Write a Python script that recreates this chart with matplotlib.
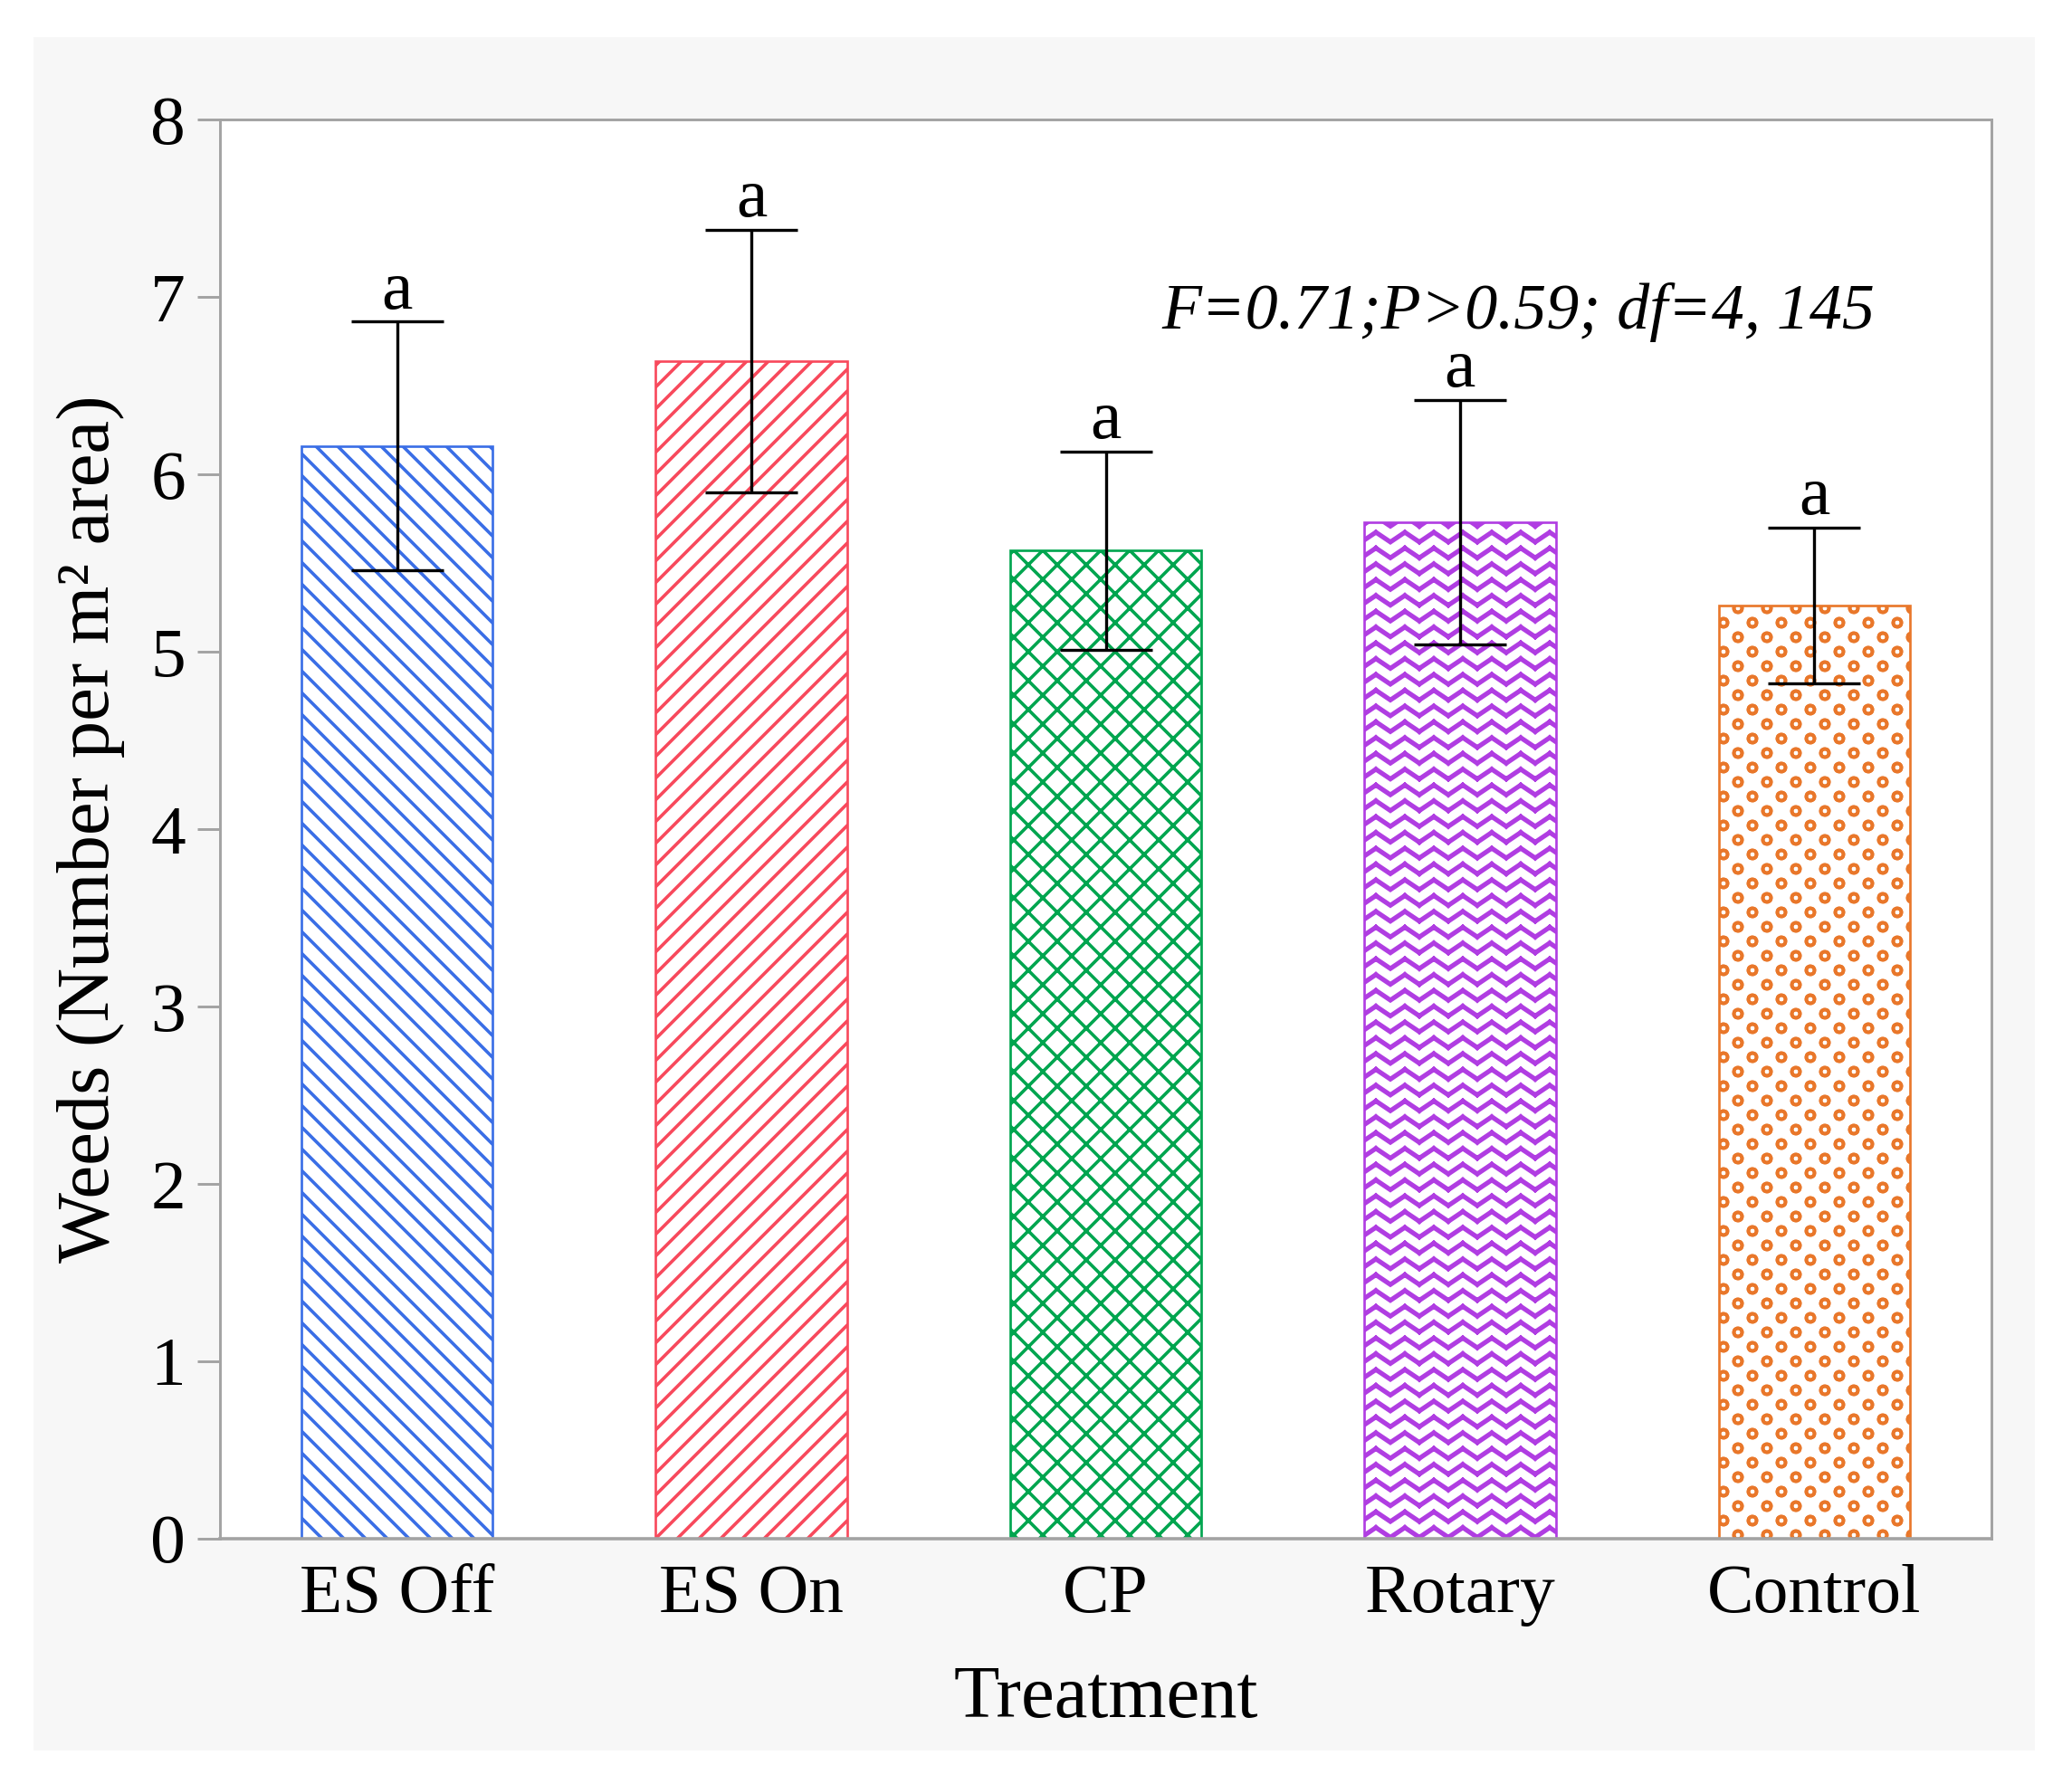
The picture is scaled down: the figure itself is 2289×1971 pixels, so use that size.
import warnings
import numpy as np
import matplotlib
matplotlib.use("Agg")
import matplotlib.pyplot as plt
import matplotlib.hatch as mhatch
from matplotlib.path import Path
from matplotlib.patches import Rectangle

treatments = ["ES Off", "ES On", "CP", "Rotary", "Control"]
means = [6.16, 6.64, 5.57, 5.73, 5.26]
errors = [0.70, 0.74, 0.56, 0.69, 0.44]
letters = ["a", "a", "a", "a", "a"]
colors = ["#3a6ee6", "#f8495c", "#00a54f", "#b03de2", "#e9772a"]
hatches = ["b", "f", "xx", "z", "c"]
stats_text = "F=0.71;P>0.59; df=4, 145"

warnings.filterwarnings("ignore", message="hatch must consist")


# extra hatch patterns: 'f'/'b' stripes, 'z' zigzag, 'c' staggered rings
class StripeHatch(mhatch.HatchPatternBase):
    def __init__(self, hatch, density):
        self.rising = hatch.count("f") * 8
        self.falling = hatch.count("b") * 8
        n_lines = sum(2 * n + 1 for n in (self.rising, self.falling) if n)
        self.num_vertices = 2 * n_lines

    def set_vertices_and_codes(self, vertices, codes):
        segs = []
        for n, up in ((self.rising, True), (self.falling, False)):
            if not n:
                continue
            for c in np.arange(-n, n + 1) / n:
                if up:
                    segs += [(0, c), (1, c + 1)]
                else:
                    segs += [(0, c + 1), (1, c)]
        vertices[:] = np.array(segs)
        codes[0::2] = Path.MOVETO
        codes[1::2] = Path.LINETO


class ZigzagHatch(mhatch.HatchPatternBase):
    rows, periods, amp, thick = 11, 6, 0.028, (-0.005, 0.005)

    def __init__(self, hatch, density):
        self.on = "z" in hatch
        n = (self.rows + 1) * self.periods * 4 * len(self.thick)
        self.num_vertices = n if self.on else 0

    def set_vertices_and_codes(self, vertices, codes):
        xs = np.linspace(0, 1, 2 * self.periods + 1)
        segs = []
        for y in np.linspace(0, 1, self.rows + 1):
            for dy in self.thick:
                ys = y + dy + self.amp * np.where(np.arange(xs.size) % 2, 1, -1)
                pts = np.column_stack([xs, ys])
                for a, b in zip(pts[:-1], pts[1:]):
                    segs += [a, b]
        vertices[:] = np.array(segs)
        codes[0::2] = Path.MOVETO
        codes[1::2] = Path.LINETO


class RingHatch(mhatch.HatchPatternBase):
    cols, rows, r_out, r_in = 6, 12, 0.0245, 0.0225

    def __init__(self, hatch, density):
        self.on = "c" in hatch
        circle = Path.unit_circle()
        self.cv, self.cc = circle.vertices, circle.codes
        n_centers = sum(self.cols + 1 if r % 2 == 0 else self.cols
                        for r in range(self.rows + 1))
        self.num_vertices = n_centers * 2 * len(self.cv) if self.on else 0

    def set_vertices_and_codes(self, vertices, codes):
        ring_v = np.concatenate([self.cv * self.r_out, self.cv[::-1] * self.r_in])
        ring_c = np.concatenate([self.cc, self.cc])
        vs, cs = [], []
        for r in range(self.rows + 1):
            if r % 2 == 0:
                xs = np.arange(self.cols + 1) / self.cols
            else:
                xs = (np.arange(self.cols) + 0.5) / self.cols
            for x in xs:
                vs.append(ring_v + [x, r / self.rows])
                cs.append(ring_c)
        vertices[:] = np.concatenate(vs)
        codes[:] = np.concatenate(cs)


mhatch._hatch_types.extend([StripeHatch, ZigzagHatch, RingHatch])

plt.rcParams["font.family"] = ["Liberation Serif", "DejaVu Serif"]
plt.rcParams["hatch.linewidth"] = 1.35

dpi = 192
fig = plt.figure(figsize=(2289 / dpi, 1971 / dpi), dpi=dpi)
fig.patch.set_facecolor("white")
fig.add_artist(Rectangle((0.016, 0.019), 0.966, 0.96, transform=fig.transFigure,
                         facecolor="#f7f7f7", edgecolor="none", zorder=-1))

ax = fig.add_axes([0.1062, 0.1375, 0.8549, 0.7955])
ax.set_facecolor("white")

x = np.arange(len(treatments))
bars = ax.bar(x, means, width=0.54, color="white", edgecolor=colors,
              linewidth=1.0, zorder=2)
for bar, h in zip(bars, hatches):
    bar.set_hatch(h)

ax.errorbar(x, means, yerr=errors, fmt="none", ecolor="black",
            elinewidth=1.25, capsize=19, capthick=1.25, zorder=3)

for xi, m, e, lab in zip(x, means, errors, letters):
    ax.annotate(lab, (xi, m + e), xytext=(0, 5.5), textcoords="offset points",
                ha="center", va="baseline", fontsize=29)

ax.text(3.165, 6.82, stats_text, style="italic", fontsize=27,
        ha="center", va="baseline")

ax.set_xlim(-0.5, 4.5)
ax.set_ylim(0, 8)
ax.set_yticks(range(0, 9))
ax.set_xticks(x)
ax.set_xticklabels(treatments)

for side in ["left", "right", "top", "bottom"]:
    ax.spines[side].set_color("#a3a3a3")
    ax.spines[side].set_linewidth(1.1)
ax.spines["bottom"].set_linewidth(1.35)

ax.tick_params(axis="y", direction="out", length=9.4, width=1.1,
               color="#a3a3a3", pad=4.9, labelsize=29)
ax.tick_params(axis="x", length=0, pad=10.5, labelsize=29)

ax.set_xlabel("Treatment", fontsize=31, labelpad=16)
ax.set_ylabel("Weeds (Number per m² area)", fontsize=31, labelpad=10.5)

fig.savefig("out.png", dpi=dpi)
